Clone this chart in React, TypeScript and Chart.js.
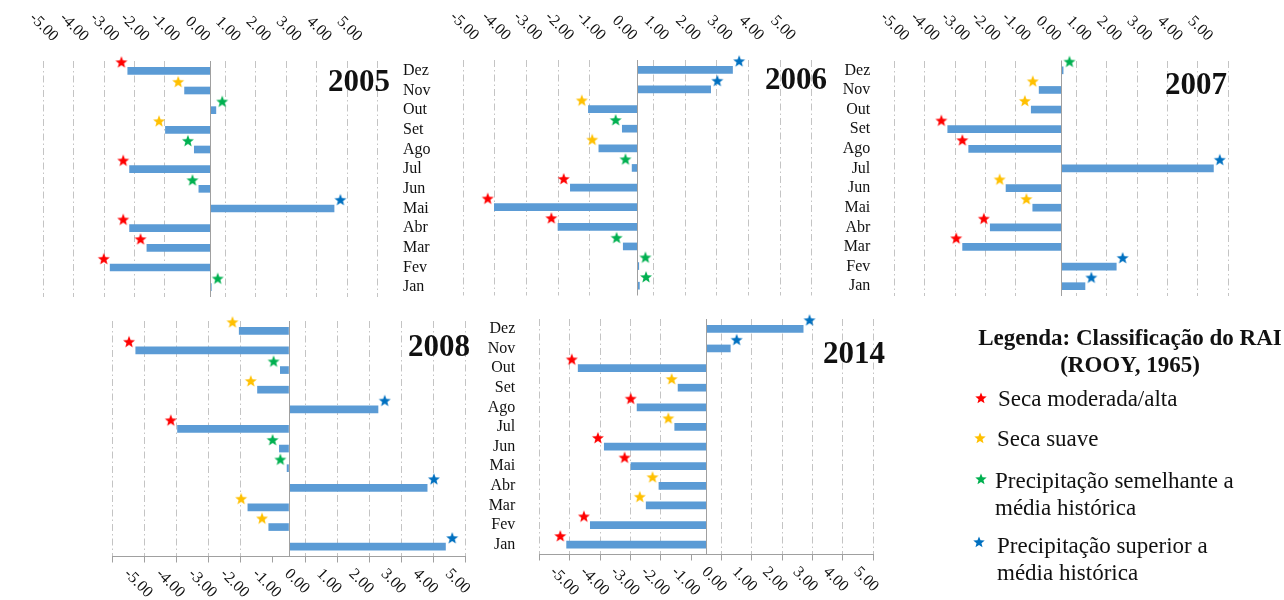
import React, { useEffect, useRef } from 'react';
import { Chart, registerables } from 'chart.js';

Chart.register(...registerables);

// ---------------- DATA ----------------
const months = ['Dez', 'Nov', 'Out', 'Set', 'Ago', 'Jul', 'Jun', 'Mai', 'Abr', 'Mar', 'Fev', 'Jan'];
const xTickValues = [-5, -4, -3, -2, -1, 0, 1, 2, 3, 4, 5];

// RAI values, ordered Dez -> Jan (top to bottom)
const rai2005 = [-2.72, -0.85, 0.18, -1.48, -0.53, -2.66, -0.38, 4.07, -2.66, -2.09, -3.3, 0.03];
const rai2006 = [3.0, 2.31, -1.55, -0.48, -1.22, -0.17, -2.12, -4.52, -2.51, -0.45, 0.04, 0.06];
const rai2007 = [0.06, -0.73, -0.99, -3.74, -3.05, 5.01, -1.82, -0.94, -2.34, -3.25, 1.81, 0.78];
const rai2008 = [-1.55, -4.77, -0.27, -0.98, 2.77, -3.47, -0.3, -0.06, 4.3, -1.28, -0.63, 4.87];
const rai2014 = [3.19, 0.79, -4.22, -0.93, -2.28, -1.04, -3.36, -2.48, -1.56, -1.98, -3.82, -4.6];

// Classification: A = seca moderada/alta, S = seca suave, N = semelhante à média, U = superior à média
const cls2005 = ['A', 'S', 'N', 'S', 'N', 'A', 'N', 'U', 'A', 'A', 'A', 'N'];
const cls2006 = ['U', 'U', 'S', 'N', 'S', 'N', 'A', 'A', 'A', 'N', 'N', 'N'];
const cls2007 = ['N', 'S', 'S', 'A', 'A', 'U', 'S', 'S', 'A', 'A', 'U', 'U'];
const cls2008 = ['S', 'A', 'N', 'S', 'U', 'A', 'N', 'N', 'U', 'S', 'S', 'U'];
const cls2014 = ['U', 'U', 'A', 'S', 'A', 'S', 'A', 'A', 'S', 'S', 'A', 'A'];

const legendTitle = ['Legenda: Classificação do RAI', '(ROOY, 1965)'];
const legendClasses = ['A', 'S', 'N', 'U'];
const legendLabels = [
  ['Seca moderada/alta'],
  ['Seca suave'],
  ['Precipitação semelhante a', 'média histórica'],
  ['Precipitação superior a', 'média histórica'],
];

// ---------------- STYLE ----------------
const SERIF = '"Liberation Serif", "Times New Roman", serif';
const BAR_COLOR = '#5B9BD5';
const GRID_COLOR = '#c4c4c4';
const AXIS_COLOR = '#a0a0a0';
const TEXT_COLOR = '#111111';
const CLASS_COLORS: Record<string, string> = { A: '#FF0000', S: '#FFC000', N: '#00B050', U: '#0070C0' };
const STAR_DX = 0.21; // star offset beyond bar end (data units)
const STAR_DY = 0.44; // star offset above bar (category units)
const LABEL_BOX = 60; // width reserved for month labels

type PanelDef = {
  year: string;
  values: number[];
  classes: string[];
  left: number; right: number; top: number; bottom: number;
  axisPos: 'top' | 'bottom';
  labelPos: 'left' | 'right' | null;
  titleX: number; titleY: number;
};

const panels: PanelDef[] = [
  { year: '2005', values: rai2005, classes: cls2005, left: 43.3, right: 377.5, top: 61, bottom: 297, axisPos: 'top', labelPos: 'right', titleX: 328, titleY: 65 },
  { year: '2006', values: rai2006, classes: cls2006, left: 463.3, right: 811.7, top: 60, bottom: 295.5, axisPos: 'top', labelPos: null, titleX: 765, titleY: 63 },
  { year: '2007', values: rai2007, classes: cls2007, left: 894.3, right: 1228.3, top: 60.5, bottom: 296, axisPos: 'top', labelPos: 'left', titleX: 1165, titleY: 68 },
  { year: '2008', values: rai2008, classes: cls2008, left: 112.3, right: 465.7, top: 321, bottom: 556.5, axisPos: 'bottom', labelPos: null, titleX: 408, titleY: 330 },
  { year: '2014', values: rai2014, classes: cls2014, left: 539.3, right: 873.3, top: 319, bottom: 554.5, axisPos: 'bottom', labelPos: 'left', titleX: 823, titleY: 337 },
];

function starPath(cx: number, cy: number, R: number, r: number): [number, number][] {
  const pts: [number, number][] = [];
  for (let k = 0; k < 10; k++) {
    const a = -Math.PI / 2 + (k * Math.PI) / 5;
    const rad = k % 2 === 0 ? R : r;
    pts.push([cx + rad * Math.cos(a), cy + rad * Math.sin(a)]);
  }
  return pts;
}

const starImageCache: Record<string, HTMLCanvasElement> = {};
function starImage(cls: string): HTMLCanvasElement {
  if (starImageCache[cls]) return starImageCache[cls];
  const c = document.createElement('canvas');
  c.width = 14;
  c.height = 14;
  const g = c.getContext('2d')!;
  g.fillStyle = CLASS_COLORS[cls];
  g.beginPath();
  starPath(7, 7.4, 6.3, 2.7).forEach(([x, y], i) => (i ? g.lineTo(x, y) : g.moveTo(x, y)));
  g.closePath();
  g.fill();
  starImageCache[cls] = c;
  return c;
}

const axisTextPlugin = {
  id: 'axisText',
  afterDraw(chart: any, _args: any, opts: any) {
    const ctx = chart.ctx;
    const xs = chart.scales.x;
    const area = chart.chartArea;
    ctx.save();
    const zx = Math.round(xs.getPixelForValue(0) - 0.5) + 0.5;
    ctx.strokeStyle = AXIS_COLOR;
    ctx.lineWidth = 1;
    ctx.beginPath();
    ctx.moveTo(zx, area.top);
    ctx.lineTo(zx, area.bottom);
    ctx.stroke();

    ctx.font = `16px ${SERIF}`;
    ctx.fillStyle = TEXT_COLOR;
    ctx.textBaseline = 'middle';
    xs.ticks.forEach((t: any) => {
      const px = xs.getPixelForValue(t.value);
      ctx.save();
      if (opts.pos === 'top') {
        ctx.translate(px - 3, area.top - 22);
        ctx.rotate(Math.PI / 4);
        ctx.textAlign = 'right';
      } else {
        ctx.translate(px - 2, area.bottom + 15);
        ctx.rotate(Math.PI / 4);
        ctx.textAlign = 'left';
      }
      ctx.fillText(Number(t.value).toFixed(2), 0, 0);
      ctx.restore();
    });
    ctx.restore();
  },
};

function buildConfig(p: PanelDef): any {
  const stars = p.values.map((v, i) => ({ x: v + (v >= 0 ? 1 : -1) * STAR_DX, y: i - STAR_DY }));
  const bottomAxis = p.axisPos === 'bottom';
  const labelW = p.labelPos ? LABEL_BOX : 0;
  const padLeft = p.labelPos === 'left' ? p.left - labelW : p.left;
  const padRight = p.labelPos === 'right' ? 1284 - p.right - labelW : 1284 - p.right;
  return {
    type: 'bar',
    data: {
      labels: months,
      datasets: [
        {
          type: 'bar',
          data: p.values,
          indexAxis: 'y',
          xAxisID: 'x',
          yAxisID: 'y',
          backgroundColor: BAR_COLOR,
          borderWidth: 0,
          barThickness: 7,
          clip: false,
          order: 2,
        },
        {
          type: 'scatter',
          data: stars,
          xAxisID: 'x',
          yAxisID: 'yPts',
          pointStyle: (c: any) => starImage(p.classes[c.dataIndex]),
          pointRadius: 12,
          hoverRadius: 12,
          borderWidth: 0,
          clip: false,
          order: 1,
        },
      ],
    },
    options: {
      animation: false,
      responsive: false,
      events: [],
      layout: { padding: { left: padLeft, right: padRight, top: p.top, bottom: 600 - p.bottom } },
      plugins: { legend: { display: false }, tooltip: { enabled: false }, axisText: { pos: p.axisPos } },
      scales: {
        x: {
          type: 'linear',
          axis: 'x',
          position: p.axisPos,
          min: -5,
          max: 5,
          afterBuildTicks: (s: any) => {
            s.ticks = xTickValues.map((v) => ({ value: v }));
          },
          ticks: { display: false },
          grid: {
            color: (c: any) => (c.tick && c.tick.value === 0 ? 'rgba(0,0,0,0)' : GRID_COLOR),
            lineWidth: 1,
            drawTicks: bottomAxis,
            tickLength: 6,
            tickColor: AXIS_COLOR,
            tickWidth: 1,
          },
          border: { display: bottomAxis, color: AXIS_COLOR, width: 1, dash: [7, 3, 1.5, 3] },
          afterFit: (s: any) => {
            s.height = 0;
          },
        },
        y: {
          type: 'category',
          axis: 'y',
          position: p.labelPos || 'left',
          offset: true,
          ticks: {
            display: !!p.labelPos,
            padding: p.labelPos === 'right' ? 25.5 : 24,
            color: TEXT_COLOR,
            font: { family: SERIF, size: 16 },
            autoSkip: false,
          },
          grid: { display: false, drawTicks: false },
          border: { display: false },
          afterFit: (s: any) => {
            s.width = labelW;
          },
        },
        yPts: {
          type: 'linear',
          axis: 'y',
          display: false,
          min: -0.5,
          max: 11.5,
          reverse: true,
        },
      },
    },
    plugins: [axisTextPlugin],
  };
}

function PanelChart({ def }: { def: PanelDef }) {
  const ref = useRef<HTMLCanvasElement | null>(null);
  useEffect(() => {
    if (!ref.current) return;
    const chart = new Chart(ref.current, buildConfig(def));
    return () => chart.destroy();
  }, [def]);
  return (
    <canvas
      ref={ref}
      width={1284}
      height={600}
      style={{ position: 'absolute', left: 0, top: 0, width: 1284, height: 600 }}
    />
  );
}

function LegendStar({ cls, x, y }: { cls: string; x: number; y: number }) {
  const pts = starPath(7, 7.4, 6, 2.6)
    .map(([a, b]) => `${a.toFixed(2)},${b.toFixed(2)}`)
    .join(' ');
  return (
    <svg width={14} height={14} style={{ position: 'absolute', left: x - 7, top: y - 7 }}>
      <polygon points={pts} fill={CLASS_COLORS[cls]} />
    </svg>
  );
}

const legendStarPos = [
  [981, 398],
  [980, 438],
  [981, 479],
  [979, 542],
];
const legendTextPos = [
  [998, 385],
  [997, 425],
  [995, 467],
  [997, 532],
];

export default function App() {
  useEffect(() => {
    document.body.style.margin = '0';
    document.body.style.overflow = 'hidden';
  }, []);
  return (
    <div
      style={{
        position: 'absolute',
        left: 0,
        top: 0,
        width: 1284,
        height: 600,
        background: '#ffffff',
        overflow: 'hidden',
        fontFamily: SERIF,
        color: TEXT_COLOR,
      }}
    >
      {panels.map((p) => (
        <PanelChart key={p.year} def={p} />
      ))}
      {panels.map((p) => (
        <div
          key={'t' + p.year}
          style={{
            position: 'absolute',
            left: p.titleX,
            top: p.titleY,
            fontSize: 31,
            lineHeight: '31px',
            fontWeight: 'bold',
            whiteSpace: 'nowrap',
          }}
        >
          {p.year}
        </div>
      ))}
      <div
        style={{
          position: 'absolute',
          left: 976,
          top: 324,
          width: 308,
          textAlign: 'center',
          fontSize: 23,
          lineHeight: '27px',
          fontWeight: 'bold',
          whiteSpace: 'nowrap',
        }}
      >
        {legendTitle.map((t) => (
          <div key={t}>{t}</div>
        ))}
      </div>
      {legendClasses.map((c, i) => (
        <LegendStar key={c} cls={c} x={legendStarPos[i][0]} y={legendStarPos[i][1]} />
      ))}
      {legendLabels.map((lines, i) => (
        <div
          key={i}
          style={{
            position: 'absolute',
            left: legendTextPos[i][0],
            top: legendTextPos[i][1],
            fontSize: 23,
            lineHeight: '27px',
            whiteSpace: 'nowrap',
          }}
        >
          {lines.map((l, j) => (
            <div key={j}>{l}</div>
          ))}
        </div>
      ))}
    </div>
  );
}
